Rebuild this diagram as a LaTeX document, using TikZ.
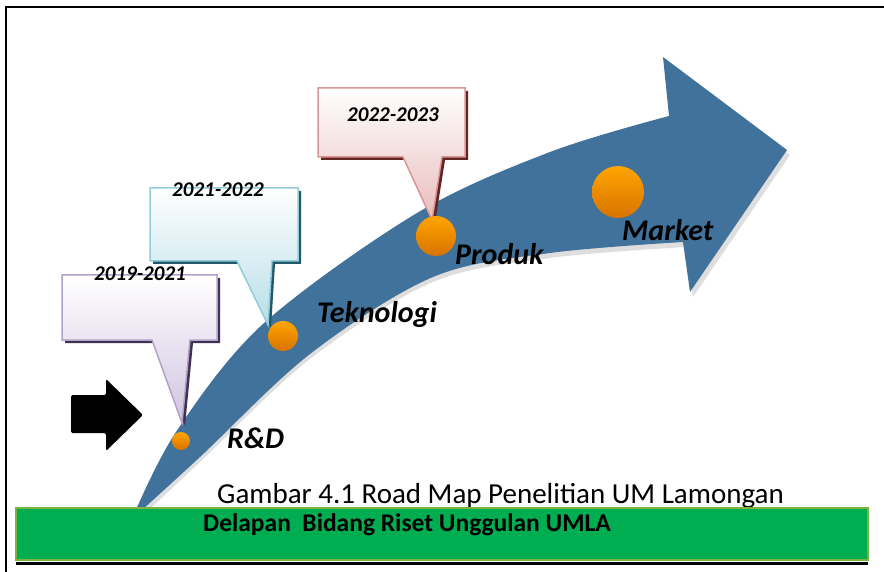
\documentclass[tikz,border=0pt]{standalone}
\usepackage{fontspec}
\setmainfont{Carlito}
\definecolor{arrowblue}{RGB}{64,114,155}
\definecolor{barfill}{RGB}{0,173,80}
\definecolor{barline}{RGB}{122,180,60}
\definecolor{dottop}{RGB}{255,165,0}
\definecolor{dotbot}{RGB}{215,115,0}
\definecolor{purB}{RGB}{179,162,199}
\definecolor{purF}{RGB}{208,196,224}
\definecolor{purS}{RGB}{64,49,82}
\definecolor{cyaB}{RGB}{146,205,220}
\definecolor{cyaF}{RGB}{183,222,232}
\definecolor{cyaS}{RGB}{33,89,104}
\definecolor{pinB}{RGB}{217,150,148}
\definecolor{pinF}{RGB}{232,188,187}
\definecolor{pinS}{RGB}{99,37,35}
\tikzset{
  dotnode/.style={circle, inner sep=0pt, top color=dottop, bottom color=dotbot, draw=none},
  stagelabel/.style={anchor=base west, inner sep=0pt, font=\fontsize{30}{32}\selectfont\bfseries\itshape},
  yearlabel/.style={anchor=base, inner sep=0pt, font=\fontsize{21}{23}\selectfont\bfseries\itshape},
}
\begin{document}
\begin{tikzpicture}[x=1pt,y=-1pt]
\useasboundingbox (0,0) rectangle (884,572);
% frame
\draw[line width=2.5pt] (6,572) -- (6,7) -- (884,7);
% big curved arrow (soft shadow, then body)
\fill[black, opacity=0.13] plot[smooth, tension=0.55] coordinates {(135,523) (178,435) (263,328) (417,218) (550,157) (672,121)}
  -- (666,62) -- (790,155) -- (693,297) -- (686,247)
  -- plot[smooth, tension=0.55] coordinates {(686,247) (550,258) (433,282) (310,359) (200,462) (135,523)} -- cycle;
\fill[arrowblue] plot[smooth, tension=0.55] coordinates {(132,519) (176,432) (263,324) (417,213) (550,152) (669,116)}
  -- (663,57) -- (787,150) -- (690,292) -- (683,242)
  -- plot[smooth, tension=0.55] coordinates {(683,242) (550,253) (433,277) (310,354) (200,457) (132,519)} -- cycle;
% black block arrow
\fill[black, rounded corners=1.5pt] (71,395) -- (106,395) -- (106,379) -- (143,415) -- (106,451) -- (106,433) -- (71,433) -- cycle;
% callouts: shadow then body
\fill[purS] (65,278) -- (220,278) -- (220,343) -- (193,343) -- (185,426) -- (155,343) -- (65,343) -- cycle;
\draw[draw=purB, line width=1.5pt, top color=white, bottom color=purF] (62,275) -- (217,275) -- (217,340) -- (190,340) -- (182,423) -- (152,340) -- (62,340) -- cycle;
\fill[cyaS] (153,191) -- (301,191) -- (301,264) -- (275,264) -- (271,328) -- (240,264) -- (153,264) -- cycle;
\draw[draw=cyaB, line width=1.5pt, top color=white, bottom color=cyaF] (150,188) -- (298,188) -- (298,261) -- (272,261) -- (268,325) -- (237,261) -- (150,261) -- cycle;
\fill[pinS] (321,91) -- (468,91) -- (468,160) -- (445,160) -- (435,223) -- (406,160) -- (321,160) -- cycle;
\draw[draw=pinB, line width=1.5pt, top color=white, bottom color=pinF] (318,88) -- (465,88) -- (465,157) -- (442,157) -- (432,220) -- (403,157) -- (318,157) -- cycle;
% year labels
\node[yearlabel] (y1) at (140,280) {2019-2021};
\node[yearlabel] (y2) at (218,197) {2021-2022};
\node[yearlabel] (y3) at (393,122) {2022-2023};
% dots
\node[dotnode, minimum size=18pt] (d1) at (181,441) {};
\node[dotnode, minimum size=30pt] (d2) at (283,336) {};
\node[dotnode, minimum size=40pt] (d3) at (436,236) {};
\node[dotnode, minimum size=52pt] (d4) at (618,192) {};
% stage labels
\node[stagelabel] (l1) at (227,448) {R\&D};
\node[stagelabel] (l2) at (317,322) {Teknologi};
\node[stagelabel] (l3) at (455,265) {Produk};
\node[stagelabel] (l4) at (622,241) {Market};
% caption
\node[anchor=base west, inner sep=0pt, font=\fontsize{29}{31}\selectfont] (cap) at (217,503) {Gambar 4.1 Road Map Penelitian UM Lamongan};
% green bar
\draw[draw=barline, fill=barfill, line width=1.2pt] (16,508) rectangle (868,560);
\draw[line width=3pt] (16,563) -- (868,563);
\node[anchor=base west, inner sep=0pt, font=\fontsize{25.5}{27}\selectfont\bfseries] (bar) at (203,531) {Delapan\ \ Bidang Riset Unggulan UMLA};
\end{tikzpicture}
\end{document}
